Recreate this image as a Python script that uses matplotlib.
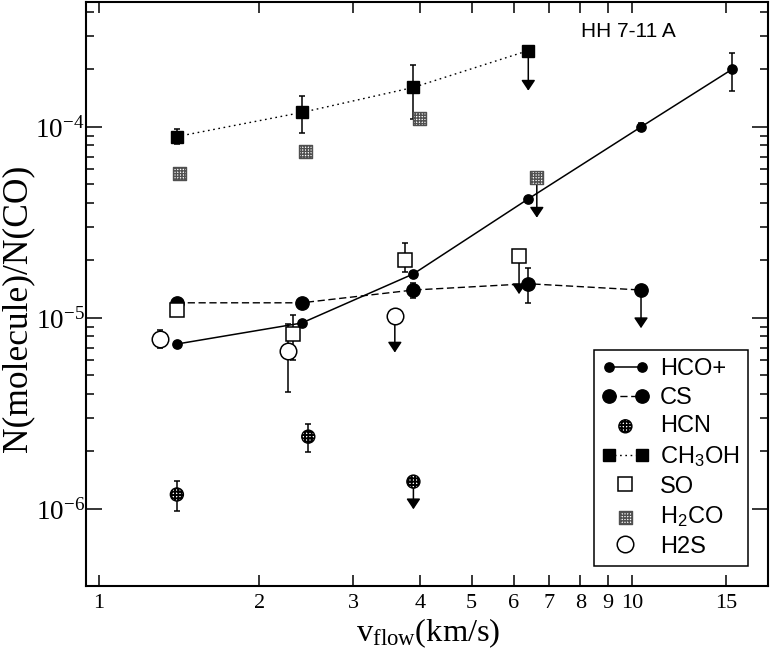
import numpy as np
import matplotlib
matplotlib.use('Agg')
import matplotlib.pyplot as plt
from matplotlib.ticker import FixedLocator, FixedFormatter, NullLocator, NullFormatter
from matplotlib.legend_handler import HandlerLine2D, HandlerPathCollection

plt.rcParams['font.family'] = ['Liberation Serif', 'DejaVu Serif']
plt.rcParams['mathtext.default'] = 'regular'
plt.rcParams['hatch.linewidth'] = 1.0

# ---------------- data ----------------
hco_v = [1.40, 2.40, 3.89, 6.39, 10.4, 15.4]
hco_n = [7.3e-6, 9.4e-6, 1.7e-5, 4.2e-5, 1.0e-4, 2.0e-4]
hco_err = [0, 0, 0, 0, 0.05e-4, 0.45e-4]

cs_v = [1.40, 2.40, 3.89, 6.39, 10.4]
cs_n = [1.2e-5, 1.2e-5, 1.4e-5, 1.51e-5, 1.4e-5]
cs_err = [0, 0, 0.13e-5, 0.32e-5, 0]
cs_lim = [False, False, False, False, True]

hcn_v = [1.40, 2.47, 3.89]
hcn_n = [1.19e-6, 2.39e-6, 1.39e-6]
hcn_err = [0.21e-6, 0.40e-6, 0]
hcn_lim = [False, False, True]

ch3oh_v = [1.40, 2.40, 3.89, 6.39]
ch3oh_n = [8.9e-5, 1.19e-4, 1.61e-4, 2.51e-4]
ch3oh_err = [0.8e-5, 0.26e-4, 0.51e-4, 0]
ch3oh_lim = [False, False, False, True]

so_v = [1.40, 2.31, 3.75, 6.14]
so_n = [1.10e-5, 8.2e-6, 2.01e-5, 2.11e-5]
so_err_lo = [0, 2.2e-6, 0.26e-5, 0]
so_err_hi = [0, 2.2e-6, 0.45e-5, 0]
so_lim = [False, False, False, True]

h2co_v = [1.415, 2.445, 3.99, 6.63]
h2co_n = [5.7e-5, 7.4e-5, 1.11e-4, 5.43e-5]
h2co_lim = [False, False, False, True]

h2s_v = [1.30, 2.265, 3.59]
h2s_n = [7.8e-6, 6.7e-6, 1.02e-5]
h2s_err = [0.85e-6, 2.6e-6, 0]
h2s_lim = [False, False, True]

xticks = [1, 2, 3, 4, 5, 6, 7, 8, 9, 10, 15]
xtick_labels = ['1', '2', '3', '4', '5', '6', '7', '8', '9', '10', '15']
yticks = [1e-6, 1e-5, 1e-4]
ytick_labels = ['10$^{-6}$', '10$^{-5}$', '10$^{-4}$']

# ---------------- figure ----------------
fig = plt.figure(figsize=(7.72, 6.57), dpi=100)
ax = fig.add_axes([0.1114, 0.1081, 0.8834, 0.8889])
ax.set_xscale('log')
ax.set_yscale('log')
ax.set_xlim(0.9454, 18.0)
ax.set_ylim(3.95e-7, 4.51e-4)


def errbars(v, n, lo, hi=None):
    hi = lo if hi is None else hi
    idx = [i for i in range(len(v)) if lo[i] > 0 or hi[i] > 0]
    if not idx:
        return
    ax.errorbar([v[i] for i in idx], [n[i] for i in idx],
                yerr=[[lo[i] for i in idx], [hi[i] for i in idx]],
                fmt='none', ecolor='k', elinewidth=1.1, capsize=2.5,
                capthick=1.1, zorder=2)


def limits(v, n, lim, dex=0.2):
    for xi, yi, li in zip(v, n, lim):
        if li:
            ax.annotate('', xy=(xi, yi * 10 ** -dex), xytext=(xi, yi),
                        arrowprops=dict(arrowstyle='-|>,head_length=0.45,head_width=0.3',
                                        color='k', lw=1.1, shrinkA=0, shrinkB=0,
                                        mutation_scale=14), zorder=2)


def thick_hatch(coll, w):
    try:
        coll.set_hatch_linewidth(w)
    except AttributeError:
        pass


errbars(hco_v, hco_n, hco_err)
errbars(cs_v, cs_n, cs_err)
errbars(hcn_v, hcn_n, hcn_err)
errbars(ch3oh_v, ch3oh_n, ch3oh_err)
errbars(so_v, so_n, so_err_lo, so_err_hi)
errbars(h2s_v, h2s_n, h2s_err)

limits(cs_v, cs_n, cs_lim)
limits(hcn_v, hcn_n, hcn_lim, dex=0.145)
limits(ch3oh_v, ch3oh_n, ch3oh_lim, dex=0.21)
limits(so_v, so_n, so_lim)
limits(h2co_v, h2co_n, h2co_lim, dex=0.21)
limits(h2s_v, h2s_n, h2s_lim, dex=0.19)

l_ch3oh, = ax.plot(ch3oh_v, ch3oh_n, color='k', lw=1.0, dashes=(1.2, 2.6),
                   marker='s', ms=9.1, mfc='k', mec='k', zorder=3, label='CH$_3$OH')
l_cs, = ax.plot(cs_v, cs_n, color='k', lw=1.0, dashes=(5.2, 2.6),
                marker='o', ms=9.6, mfc='k', mec='k', zorder=3, label='CS')
l_h2co = ax.scatter(h2co_v, h2co_n, marker='s', s=9.4 ** 2, facecolor='white',
                    edgecolor='#505050', hatch='++++++', linewidths=1.0, zorder=4,
                    label='H$_2$CO')
l_so, = ax.plot(so_v, so_n, ls='none', marker='s', ms=9.4, mfc='white', mec='k',
                mew=1.1, zorder=4, label='SO')
l_h2s, = ax.plot(h2s_v, h2s_n, ls='none', marker='o', ms=11.9, mfc='white', mec='k',
                 mew=1.1, zorder=4, label='H2S')
l_hcn = ax.scatter(hcn_v, hcn_n, marker='o', s=9.4 ** 2, facecolor='white',
                   edgecolor='black', hatch='+++++', linewidths=1.0, zorder=4,
                   label='HCN')
thick_hatch(l_hcn, 1.4)
l_hco, = ax.plot(hco_v, hco_n, color='k', lw=1.1, ls='-', marker='o', ms=6.7,
                 mfc='k', mec='k', zorder=5, label='HCO+')

# ---------------- axes styling ----------------
for sp in ax.spines.values():
    sp.set_linewidth(1.5)

ax.xaxis.set_major_locator(FixedLocator(xticks))
ax.xaxis.set_major_formatter(FixedFormatter(xtick_labels))
ax.xaxis.set_minor_locator(NullLocator())
ax.yaxis.set_major_locator(FixedLocator(yticks))
ax.yaxis.set_major_formatter(FixedFormatter(ytick_labels))
yminor = [m * 10.0 ** e for e in (-6, -5) for m in range(2, 10)] + [2e-4, 3e-4, 4e-4]
ax.yaxis.set_minor_locator(FixedLocator(yminor))
ax.yaxis.set_minor_formatter(NullFormatter())

ax.tick_params(which='both', direction='in', top=True, right=True, width=1.1)
ax.tick_params(axis='x', which='major', length=8, pad=6, labelsize=16)
ax.tick_params(axis='y', which='major', length=11.3, pad=1, labelsize=19.5)
ax.tick_params(axis='y', which='minor', length=6)

ax.set_xlabel('v$_{flow}$(km/s)', fontsize=23.4)
ax.xaxis.set_label_coords(0.5016, -0.052)
ax.set_ylabel('N(molecule)/N(CO)', fontsize=25.5)
ax.yaxis.set_label_coords(-0.076, 0.476)

ax.text(0.7263, 0.9406, 'HH 7-11 A', transform=ax.transAxes, ha='left', va='baseline',
        fontsize=15, family=['Liberation Sans', 'DejaVu Sans'])

handles = [l_hco, l_cs, l_hcn, l_ch3oh, l_so, l_h2co, l_h2s]
hmap = {l_hco: HandlerLine2D(numpoints=2), l_cs: HandlerLine2D(numpoints=2),
        l_ch3oh: HandlerLine2D(numpoints=2), l_so: HandlerLine2D(numpoints=1),
        l_h2s: HandlerLine2D(numpoints=1),
        l_hcn: HandlerPathCollection(numpoints=1), l_h2co: HandlerPathCollection(numpoints=1)}
leg = ax.legend(handles=handles, labels=[h.get_label() for h in handles],
                handler_map=hmap, loc='lower right', bbox_to_anchor=(0.970, 0.0342),
                borderaxespad=0, fancybox=False, edgecolor='k', framealpha=1,
                borderpad=0.35, labelspacing=0.28, handlelength=2.0, handletextpad=0.45,
                scatterpoints=1,
                prop={'family': ['Liberation Sans', 'DejaVu Sans'], 'size': 17})
leg.get_frame().set_linewidth(1.1)
thick_hatch(leg.legend_handles[2], 1.4)

fig.savefig('out.png', dpi=100)
